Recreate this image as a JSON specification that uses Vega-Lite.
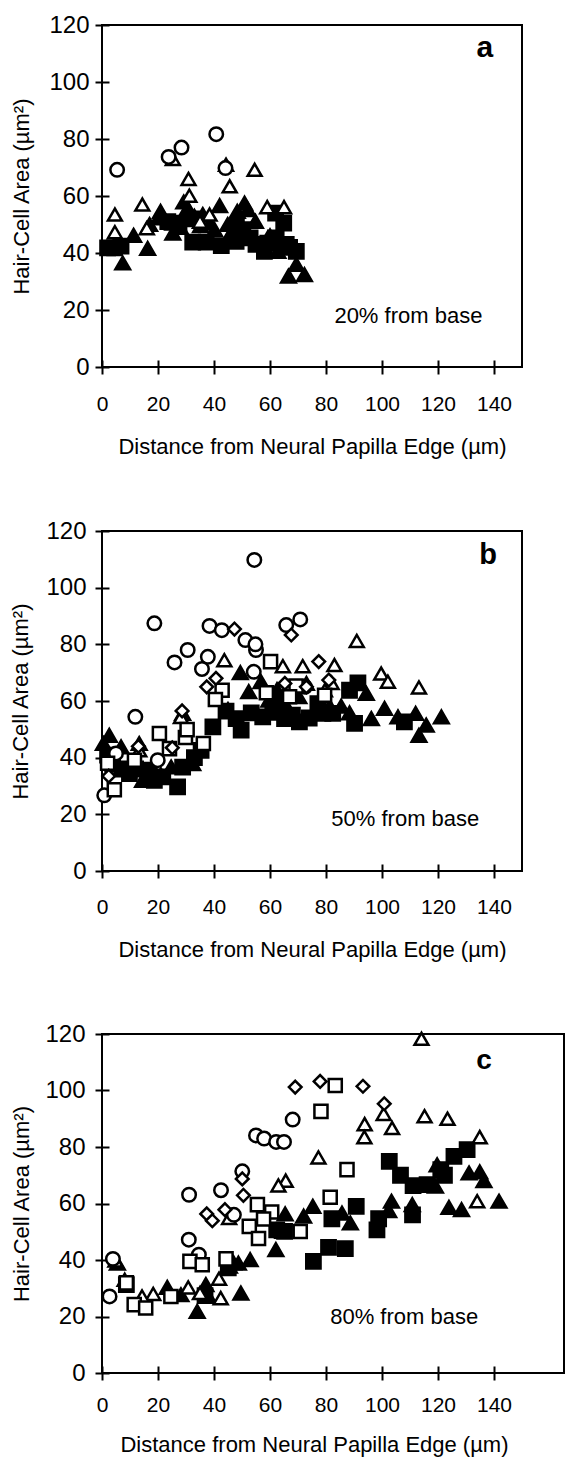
{
  "$schema": "https://vega.github.io/schema/vega-lite/v6.json",
  "background": "white",
  "padding": {"left": 8, "top": 12, "right": 0, "bottom": 0},
  "spacing": 60,
  "config": {
    "font": "Liberation Sans",
    "view": {"stroke": "black", "strokeWidth": 2},
    "axis": {
      "domain": false, "grid": false, "ticks": true,
      "tickColor": "black", "tickWidth": 2, "tickSize": 14, "offset": -7,
      "labelFont": "Liberation Sans", "labelFontSize": 21, "labelColor": "black", "labelFlush": false, "labelOverlap": false,
      "titleFont": "Liberation Sans", "titleFontSize": 22, "titleFontWeight": "normal", "titleColor": "black"
    },
    "axisY": {"labelFontSize": 24}
  },
  "datasets": {
    "points": [
      {"panel":"a","series":"filled triangle","distance":7.4,"area":36.5},
      {"panel":"a","series":"filled triangle","distance":11.3,"area":46.2},
      {"panel":"a","series":"filled triangle","distance":16.3,"area":41.6},
      {"panel":"a","series":"filled triangle","distance":17,"area":50},
      {"panel":"a","series":"filled triangle","distance":20.1,"area":52.3},
      {"panel":"a","series":"filled triangle","distance":20.9,"area":54.6},
      {"panel":"a","series":"filled triangle","distance":25.3,"area":50.5},
      {"panel":"a","series":"filled triangle","distance":25.3,"area":47},
      {"panel":"a","series":"filled triangle","distance":29.2,"area":57.9},
      {"panel":"a","series":"filled triangle","distance":30.6,"area":55.8},
      {"panel":"a","series":"filled triangle","distance":33,"area":52.9},
      {"panel":"a","series":"filled triangle","distance":36,"area":53.5},
      {"panel":"a","series":"filled triangle","distance":35.2,"area":49.6},
      {"panel":"a","series":"filled triangle","distance":42,"area":56.6},
      {"panel":"a","series":"filled triangle","distance":40.2,"area":48.2},
      {"panel":"a","series":"filled triangle","distance":44.9,"area":50},
      {"panel":"a","series":"filled triangle","distance":48.3,"area":54.6},
      {"panel":"a","series":"filled triangle","distance":50.9,"area":57.5},
      {"panel":"a","series":"filled triangle","distance":52.1,"area":55.2},
      {"panel":"a","series":"filled triangle","distance":54.8,"area":51.1},
      {"panel":"a","series":"filled triangle","distance":59.2,"area":45.3},
      {"panel":"a","series":"filled triangle","distance":62.8,"area":40.6},
      {"panel":"a","series":"filled triangle","distance":66.6,"area":31.9},
      {"panel":"a","series":"filled triangle","distance":69.4,"area":36},
      {"panel":"a","series":"filled triangle","distance":72.3,"area":32.4},
      {"panel":"a","series":"filled triangle","distance":4.6,"area":43},
      {"panel":"a","series":"filled triangle","distance":60,"area":46},
      {"panel":"a","series":"filled triangle","distance":28,"area":49},
      {"panel":"a","series":"filled triangle","distance":38.5,"area":50.5},
      {"panel":"a","series":"filled triangle","distance":46,"area":47},
      {"panel":"a","series":"filled square","distance":2,"area":41.8},
      {"panel":"a","series":"filled square","distance":4.5,"area":41.8},
      {"panel":"a","series":"filled square","distance":6.8,"area":42.4},
      {"panel":"a","series":"filled square","distance":23.5,"area":51},
      {"panel":"a","series":"filled square","distance":27.5,"area":50.5},
      {"panel":"a","series":"filled square","distance":32.4,"area":43.8},
      {"panel":"a","series":"filled square","distance":37.2,"area":43.8},
      {"panel":"a","series":"filled square","distance":42.6,"area":42.6},
      {"panel":"a","series":"filled square","distance":47.9,"area":44.1},
      {"panel":"a","series":"filled square","distance":50.3,"area":48.2},
      {"panel":"a","series":"filled square","distance":52.9,"area":45.3},
      {"panel":"a","series":"filled square","distance":58,"area":40.6},
      {"panel":"a","series":"filled square","distance":59.2,"area":43.5},
      {"panel":"a","series":"filled square","distance":62.2,"area":45.3},
      {"panel":"a","series":"filled square","distance":64.9,"area":50.5},
      {"panel":"a","series":"filled square","distance":65.8,"area":43},
      {"panel":"a","series":"filled square","distance":69.4,"area":40.6},
      {"panel":"a","series":"filled square","distance":62,"area":54},
      {"panel":"a","series":"filled square","distance":32,"area":52},
      {"panel":"a","series":"filled square","distance":48,"area":49},
      {"panel":"a","series":"filled square","distance":55,"area":43},
      {"panel":"a","series":"filled square","distance":67,"area":42},
      {"panel":"a","series":"open triangle","distance":4.6,"area":53.5},
      {"panel":"a","series":"open triangle","distance":4.6,"area":47.3},
      {"panel":"a","series":"open triangle","distance":14.4,"area":57},
      {"panel":"a","series":"open triangle","distance":16,"area":48.7},
      {"panel":"a","series":"open triangle","distance":25.3,"area":73},
      {"panel":"a","series":"open triangle","distance":30.9,"area":66},
      {"panel":"a","series":"open triangle","distance":31.2,"area":60.1},
      {"panel":"a","series":"open triangle","distance":38.4,"area":53.5},
      {"panel":"a","series":"open triangle","distance":44.3,"area":71},
      {"panel":"a","series":"open triangle","distance":45.6,"area":63.4},
      {"panel":"a","series":"open triangle","distance":54.5,"area":69.2},
      {"panel":"a","series":"open triangle","distance":59,"area":56.1},
      {"panel":"a","series":"open triangle","distance":65,"area":56.1},
      {"panel":"a","series":"open triangle","distance":35,"area":51},
      {"panel":"a","series":"open circle","distance":5.4,"area":69.2},
      {"panel":"a","series":"open circle","distance":23.8,"area":73.7},
      {"panel":"a","series":"open circle","distance":28.4,"area":77},
      {"panel":"a","series":"open circle","distance":40.8,"area":81.7},
      {"panel":"a","series":"open circle","distance":44.1,"area":69.8},

      {"panel":"b","series":"filled triangle","distance":49.4,"area":70},
      {"panel":"b","series":"filled triangle","distance":52.4,"area":63.3},
      {"panel":"b","series":"filled triangle","distance":56.8,"area":66.8},
      {"panel":"b","series":"filled triangle","distance":73,"area":66.2},
      {"panel":"b","series":"filled triangle","distance":70.3,"area":61.5},
      {"panel":"b","series":"filled triangle","distance":94.4,"area":62.7},
      {"panel":"b","series":"filled triangle","distance":100.9,"area":57.4},
      {"panel":"b","series":"filled triangle","distance":96.2,"area":53.8},
      {"panel":"b","series":"filled triangle","distance":85.4,"area":58.2},
      {"panel":"b","series":"filled triangle","distance":81.3,"area":58.2},
      {"panel":"b","series":"filled triangle","distance":88.4,"area":55.8},
      {"panel":"b","series":"filled triangle","distance":105.7,"area":54.4},
      {"panel":"b","series":"filled triangle","distance":112,"area":55.6},
      {"panel":"b","series":"filled triangle","distance":113.2,"area":47.9},
      {"panel":"b","series":"filled triangle","distance":115.8,"area":51.5},
      {"panel":"b","series":"filled triangle","distance":121.2,"area":54.4},
      {"panel":"b","series":"filled triangle","distance":2.6,"area":47.9},
      {"panel":"b","series":"filled triangle","distance":6.8,"area":43.8},
      {"panel":"b","series":"filled triangle","distance":13.3,"area":45},
      {"panel":"b","series":"filled triangle","distance":28.8,"area":55.6},
      {"panel":"b","series":"filled triangle","distance":32.4,"area":37.9},
      {"panel":"b","series":"filled triangle","distance":24.7,"area":36.7},
      {"panel":"b","series":"filled triangle","distance":14.5,"area":32},
      {"panel":"b","series":"filled triangle","distance":0.5,"area":45},
      {"panel":"b","series":"filled triangle","distance":59.6,"area":60.3},
      {"panel":"b","series":"filled triangle","distance":62.5,"area":64},
      {"panel":"b","series":"filled triangle","distance":9,"area":36},
      {"panel":"b","series":"filled triangle","distance":17,"area":35},
      {"panel":"b","series":"filled triangle","distance":21,"area":34},
      {"panel":"b","series":"filled triangle","distance":45,"area":57},
      {"panel":"b","series":"filled triangle","distance":66,"area":58},
      {"panel":"b","series":"filled square","distance":88.4,"area":63.8},
      {"panel":"b","series":"filled square","distance":91.4,"area":66.4},
      {"panel":"b","series":"filled square","distance":90.2,"area":52.1},
      {"panel":"b","series":"filled square","distance":108,"area":52.6},
      {"panel":"b","series":"filled square","distance":49.7,"area":49.7},
      {"panel":"b","series":"filled square","distance":39.6,"area":50.9},
      {"panel":"b","series":"filled square","distance":35.4,"area":42.6},
      {"panel":"b","series":"filled square","distance":27,"area":29.7},
      {"panel":"b","series":"filled square","distance":44.3,"area":56.4},
      {"panel":"b","series":"filled square","distance":47.9,"area":53.8},
      {"panel":"b","series":"filled square","distance":53.3,"area":55.8},
      {"panel":"b","series":"filled square","distance":57.4,"area":54.4},
      {"panel":"b","series":"filled square","distance":65.2,"area":53.8},
      {"panel":"b","series":"filled square","distance":70.5,"area":52.6},
      {"panel":"b","series":"filled square","distance":77.1,"area":59.1},
      {"panel":"b","series":"filled square","distance":78.9,"area":55.6},
      {"panel":"b","series":"filled square","distance":82.4,"area":55.6},
      {"panel":"b","series":"filled square","distance":18.7,"area":32},
      {"panel":"b","series":"filled square","distance":9.8,"area":34.4},
      {"panel":"b","series":"filled square","distance":3.8,"area":37.9},
      {"panel":"b","series":"filled square","distance":16.9,"area":35.6},
      {"panel":"b","series":"filled square","distance":21.7,"area":33.2},
      {"panel":"b","series":"filled square","distance":28.8,"area":36.7},
      {"panel":"b","series":"filled square","distance":2,"area":40.9},
      {"panel":"b","series":"filled square","distance":7,"area":36},
      {"panel":"b","series":"filled square","distance":12,"area":36},
      {"panel":"b","series":"filled square","distance":33,"area":40},
      {"panel":"b","series":"filled square","distance":61,"area":56},
      {"panel":"b","series":"filled square","distance":68,"area":55},
      {"panel":"b","series":"filled square","distance":74,"area":54},
      {"panel":"b","series":"filled square","distance":63,"area":60},
      {"panel":"b","series":"open triangle","distance":91,"area":81.2},
      {"panel":"b","series":"open triangle","distance":43.7,"area":74.4},
      {"panel":"b","series":"open triangle","distance":64.6,"area":72.3},
      {"panel":"b","series":"open triangle","distance":71.7,"area":72.3},
      {"panel":"b","series":"open triangle","distance":83,"area":72.7},
      {"panel":"b","series":"open triangle","distance":99.7,"area":69.7},
      {"panel":"b","series":"open triangle","distance":102.1,"area":66.8},
      {"panel":"b","series":"open triangle","distance":113.2,"area":64.8},
      {"panel":"b","series":"open triangle","distance":82,"area":66.4},
      {"panel":"b","series":"open triangle","distance":79.6,"area":63.8},
      {"panel":"b","series":"open triangle","distance":28.2,"area":54.4},
      {"panel":"b","series":"open triangle","distance":13.3,"area":42.6},
      {"panel":"b","series":"open circle","distance":54.4,"area":109.8},
      {"panel":"b","series":"open circle","distance":18.7,"area":87.4},
      {"panel":"b","series":"open circle","distance":38.4,"area":86.5},
      {"panel":"b","series":"open circle","distance":42.8,"area":85},
      {"panel":"b","series":"open circle","distance":51.2,"area":81.5},
      {"panel":"b","series":"open circle","distance":65.8,"area":86.8},
      {"panel":"b","series":"open circle","distance":70.8,"area":88.8},
      {"panel":"b","series":"open circle","distance":55,"area":78},
      {"panel":"b","series":"open circle","distance":30.6,"area":78},
      {"panel":"b","series":"open circle","distance":25.9,"area":73.6},
      {"panel":"b","series":"open circle","distance":37.8,"area":75.6},
      {"panel":"b","series":"open circle","distance":35.7,"area":71.3},
      {"panel":"b","series":"open circle","distance":54.2,"area":70.3},
      {"panel":"b","series":"open circle","distance":11.9,"area":54.4},
      {"panel":"b","series":"open circle","distance":19.9,"area":39.1},
      {"panel":"b","series":"open circle","distance":0.8,"area":26.7},
      {"panel":"b","series":"open circle","distance":5,"area":41.5},
      {"panel":"b","series":"open circle","distance":54.8,"area":80},
      {"panel":"b","series":"open circle","distance":72.5,"area":65},
      {"panel":"b","series":"open square","distance":60.2,"area":73.9},
      {"panel":"b","series":"open square","distance":42.9,"area":63.8},
      {"panel":"b","series":"open square","distance":40.5,"area":60.5},
      {"panel":"b","series":"open square","distance":58.7,"area":62.9},
      {"panel":"b","series":"open square","distance":69.3,"area":65.3},
      {"panel":"b","series":"open square","distance":20.5,"area":48.5},
      {"panel":"b","series":"open square","distance":29.8,"area":47.1},
      {"panel":"b","series":"open square","distance":30.4,"area":49.9},
      {"panel":"b","series":"open square","distance":36.2,"area":45},
      {"panel":"b","series":"open square","distance":4.4,"area":28.7},
      {"panel":"b","series":"open square","distance":24.1,"area":43.2},
      {"panel":"b","series":"open square","distance":67,"area":61.5},
      {"panel":"b","series":"open square","distance":11.6,"area":39.1},
      {"panel":"b","series":"open square","distance":79.5,"area":62},
      {"panel":"b","series":"open square","distance":2,"area":38},
      {"panel":"b","series":"open diamond","distance":47.3,"area":85.4},
      {"panel":"b","series":"open diamond","distance":67.6,"area":83.3},
      {"panel":"b","series":"open diamond","distance":77.4,"area":73.9},
      {"panel":"b","series":"open diamond","distance":40.7,"area":68},
      {"panel":"b","series":"open diamond","distance":37.4,"area":65},
      {"panel":"b","series":"open diamond","distance":28.6,"area":56.5},
      {"panel":"b","series":"open diamond","distance":25.1,"area":43.5},
      {"panel":"b","series":"open diamond","distance":2.4,"area":33.5},
      {"panel":"b","series":"open diamond","distance":65.3,"area":66.2},
      {"panel":"b","series":"open diamond","distance":81,"area":67.4},
      {"panel":"b","series":"open diamond","distance":13,"area":44},
      {"panel":"b","series":"open diamond","distance":73,"area":65},

      {"panel":"c","series":"filled triangle","distance":5.5,"area":38.9},
      {"panel":"c","series":"filled triangle","distance":23.3,"area":30.3},
      {"panel":"c","series":"filled triangle","distance":28.2,"area":27.7},
      {"panel":"c","series":"filled triangle","distance":34,"area":21.8},
      {"panel":"c","series":"filled triangle","distance":37.1,"area":31.3},
      {"panel":"c","series":"filled triangle","distance":38,"area":27.1},
      {"panel":"c","series":"filled triangle","distance":49.6,"area":28.3},
      {"panel":"c","series":"filled triangle","distance":48.7,"area":38.9},
      {"panel":"c","series":"filled triangle","distance":52.9,"area":40.1},
      {"panel":"c","series":"filled triangle","distance":45.5,"area":37.8},
      {"panel":"c","series":"filled triangle","distance":47,"area":39},
      {"panel":"c","series":"filled triangle","distance":62.1,"area":43.7},
      {"panel":"c","series":"filled triangle","distance":65.4,"area":56.3},
      {"panel":"c","series":"filled triangle","distance":64.6,"area":50.1},
      {"panel":"c","series":"filled triangle","distance":72,"area":55.5},
      {"panel":"c","series":"filled triangle","distance":75.3,"area":59},
      {"panel":"c","series":"filled triangle","distance":85.7,"area":56.6},
      {"panel":"c","series":"filled triangle","distance":88.7,"area":53.1},
      {"panel":"c","series":"filled triangle","distance":103.4,"area":60.8},
      {"panel":"c","series":"filled triangle","distance":102.4,"area":57.5},
      {"panel":"c","series":"filled triangle","distance":110.8,"area":59.6},
      {"panel":"c","series":"filled triangle","distance":119.7,"area":73.7},
      {"panel":"c","series":"filled triangle","distance":119.1,"area":66.1},
      {"panel":"c","series":"filled triangle","distance":123.9,"area":58.6},
      {"panel":"c","series":"filled triangle","distance":128.4,"area":57.8},
      {"panel":"c","series":"filled triangle","distance":131.1,"area":70.8},
      {"panel":"c","series":"filled triangle","distance":134.9,"area":71.2},
      {"panel":"c","series":"filled triangle","distance":136.4,"area":68.1},
      {"panel":"c","series":"filled triangle","distance":141.8,"area":60.8},
      {"panel":"c","series":"filled square","distance":75.5,"area":39.5},
      {"panel":"c","series":"filled square","distance":80.9,"area":44.5},
      {"panel":"c","series":"filled square","distance":86.9,"area":44},
      {"panel":"c","series":"filled square","distance":82.1,"area":54.6},
      {"panel":"c","series":"filled square","distance":90.8,"area":59},
      {"panel":"c","series":"filled square","distance":98.2,"area":50.7},
      {"panel":"c","series":"filled square","distance":98.8,"area":54.6},
      {"panel":"c","series":"filled square","distance":102.6,"area":74.9},
      {"panel":"c","series":"filled square","distance":106.6,"area":70},
      {"panel":"c","series":"filled square","distance":111.1,"area":66.3},
      {"panel":"c","series":"filled square","distance":110.9,"area":56},
      {"panel":"c","series":"filled square","distance":116.1,"area":66.7},
      {"panel":"c","series":"filled square","distance":122.3,"area":70},
      {"panel":"c","series":"filled square","distance":125.7,"area":76.7},
      {"panel":"c","series":"filled square","distance":130.4,"area":79.1},
      {"panel":"c","series":"filled square","distance":62.4,"area":50.7},
      {"panel":"c","series":"filled square","distance":65.2,"area":50.1},
      {"panel":"c","series":"filled square","distance":8.7,"area":31.3},
      {"panel":"c","series":"filled square","distance":36.8,"area":27.4},
      {"panel":"c","series":"filled square","distance":45.1,"area":37.2},
      {"panel":"c","series":"filled square","distance":121,"area":72},
      {"panel":"c","series":"open triangle","distance":114.1,"area":118.3},
      {"panel":"c","series":"open triangle","distance":115.2,"area":90.9},
      {"panel":"c","series":"open triangle","distance":123.4,"area":90},
      {"panel":"c","series":"open triangle","distance":134.9,"area":83.5},
      {"panel":"c","series":"open triangle","distance":100.6,"area":91.7},
      {"panel":"c","series":"open triangle","distance":103.6,"area":86.7},
      {"panel":"c","series":"open triangle","distance":93.8,"area":88.1},
      {"panel":"c","series":"open triangle","distance":93.7,"area":83.5},
      {"panel":"c","series":"open triangle","distance":77.3,"area":76.3},
      {"panel":"c","series":"open triangle","distance":65.6,"area":68.1},
      {"panel":"c","series":"open triangle","distance":63,"area":66.4},
      {"panel":"c","series":"open triangle","distance":134,"area":60.8},
      {"panel":"c","series":"open triangle","distance":41.8,"area":33.4},
      {"panel":"c","series":"open triangle","distance":42.4,"area":26.5},
      {"panel":"c","series":"open triangle","distance":35,"area":28.3},
      {"panel":"c","series":"open triangle","distance":30.8,"area":30.3},
      {"panel":"c","series":"open triangle","distance":18.3,"area":28},
      {"panel":"c","series":"open triangle","distance":14.3,"area":27.1},
      {"panel":"c","series":"open triangle","distance":8.1,"area":33},
      {"panel":"c","series":"open triangle","distance":45.4,"area":54.9},
      {"panel":"c","series":"open triangle","distance":4.8,"area":39.8},
      {"panel":"c","series":"open circle","distance":2.7,"area":27.1},
      {"panel":"c","series":"open circle","distance":3.9,"area":40.4},
      {"panel":"c","series":"open circle","distance":31.1,"area":63.1},
      {"panel":"c","series":"open circle","distance":31,"area":47.2},
      {"panel":"c","series":"open circle","distance":34.6,"area":41.9},
      {"panel":"c","series":"open circle","distance":42.5,"area":64.7},
      {"panel":"c","series":"open circle","distance":50.1,"area":71.4},
      {"panel":"c","series":"open circle","distance":55,"area":84.1},
      {"panel":"c","series":"open circle","distance":57.9,"area":83},
      {"panel":"c","series":"open circle","distance":62.2,"area":81.8},
      {"panel":"c","series":"open circle","distance":65,"area":81.8},
      {"panel":"c","series":"open circle","distance":68.1,"area":89.7},
      {"panel":"c","series":"open circle","distance":47.1,"area":56},
      {"panel":"c","series":"open square","distance":83.3,"area":101.8},
      {"panel":"c","series":"open square","distance":78.2,"area":92.6},
      {"panel":"c","series":"open square","distance":87.5,"area":72},
      {"panel":"c","series":"open square","distance":81.5,"area":62.2},
      {"panel":"c","series":"open square","distance":55.5,"area":59.6},
      {"panel":"c","series":"open square","distance":60.6,"area":57},
      {"panel":"c","series":"open square","distance":52.6,"area":51.9},
      {"panel":"c","series":"open square","distance":55.9,"area":47.6},
      {"panel":"c","series":"open square","distance":57.7,"area":54.5},
      {"panel":"c","series":"open square","distance":70.8,"area":50.1},
      {"panel":"c","series":"open square","distance":31.4,"area":39.5},
      {"panel":"c","series":"open square","distance":35.8,"area":38.3},
      {"panel":"c","series":"open square","distance":44.3,"area":40.4},
      {"panel":"c","series":"open square","distance":11.5,"area":24.2},
      {"panel":"c","series":"open square","distance":15.6,"area":23},
      {"panel":"c","series":"open square","distance":24.6,"area":27.1},
      {"panel":"c","series":"open square","distance":8.7,"area":31.9},
      {"panel":"c","series":"open diamond","distance":69,"area":101.2},
      {"panel":"c","series":"open diamond","distance":77.9,"area":103.2},
      {"panel":"c","series":"open diamond","distance":93.2,"area":101.5},
      {"panel":"c","series":"open diamond","distance":100.8,"area":95.3},
      {"panel":"c","series":"open diamond","distance":50.5,"area":62.9},
      {"panel":"c","series":"open diamond","distance":50.1,"area":68.7},
      {"panel":"c","series":"open diamond","distance":37.4,"area":56.3},
      {"panel":"c","series":"open diamond","distance":39.4,"area":53.9},
      {"panel":"c","series":"open diamond","distance":43.9,"area":57.8}
    ]
  },
  "vconcat": [
    {
      "width": 420, "height": 342,
      "layer": [
        {
          "data": {"name": "points"},
          "transform": [{"filter": "datum.panel === 'a'"}],
          "mark": {"type": "point", "filled": true, "stroke": "black", "strokeWidth": 2.5, "opacity": 1},
          "encoding": {
            "x": {"field": "distance", "type": "quantitative", "scale": {"domain": [0, 150], "nice": false, "zero": false},
                  "axis": {"values": [0, 20, 40, 60, 80, 100, 120, 140], "title": "Distance from Neural Papilla Edge (µm)", "labelPadding": 19, "titlePadding": 22}},
            "y": {"field": "area", "type": "quantitative", "scale": {"domain": [0, 120], "nice": false},
                  "axis": {"values": [0, 20, 40, 60, 80, 100, 120], "title": "Hair-Cell Area (µm²)", "labelPadding": 6, "titlePadding": 15}},
            "shape": {"field": "series", "type": "nominal", "legend": null, "scale": {"domain": ["filled triangle", "filled square", "open triangle", "open circle", "open square", "open diamond"], "range": ["triangle-up", "square", "triangle-up", "circle", "square", "diamond"]}},
            "color": {"field": "series", "type": "nominal", "legend": null, "scale": {"domain": ["filled triangle", "filled square", "open triangle", "open circle", "open square", "open diamond"], "range": ["black", "black", "white", "white", "white", "white"]}},
            "size": {"field": "series", "type": "ordinal", "legend": null, "scale": {"domain": ["filled triangle", "filled square", "open triangle", "open circle", "open square", "open diamond"], "range": [215, 160, 150, 125, 130, 115]}}
          }
        },
        {
          "data": {"values": [{}]},
          "mark": {"type": "text", "align": "left", "baseline": "middle", "fontSize": 22, "font": "Liberation Sans", "color": "black"},
          "encoding": {"x": {"datum": 83}, "y": {"datum": 18}, "text": {"value": "20% from base"}}
        },
        {
          "data": {"values": [{}]},
          "mark": {"type": "text", "align": "center", "baseline": "middle", "fontSize": 30, "fontWeight": "bold", "font": "Liberation Sans", "color": "black"},
          "encoding": {"x": {"datum": 136.7}, "y": {"datum": 111.8}, "text": {"value": "a"}}
        }
      ]
    },
    {
      "width": 420, "height": 340,
      "layer": [
        {
          "data": {"name": "points"},
          "transform": [{"filter": "datum.panel === 'b'"}],
          "mark": {"type": "point", "filled": true, "stroke": "black", "strokeWidth": 2.5, "opacity": 1},
          "encoding": {
            "x": {"field": "distance", "type": "quantitative", "scale": {"domain": [0, 150], "nice": false, "zero": false},
                  "axis": {"values": [0, 20, 40, 60, 80, 100, 120, 140], "title": "Distance from Neural Papilla Edge (µm)", "labelPadding": 18.5, "titlePadding": 21.5}},
            "y": {"field": "area", "type": "quantitative", "scale": {"domain": [0, 120], "nice": false},
                  "axis": {"values": [0, 20, 40, 60, 80, 100, 120], "title": "Hair-Cell Area (µm²)", "labelPadding": 9, "titlePadding": 13}},
            "shape": {"field": "series", "type": "nominal", "legend": null, "scale": {"domain": ["filled triangle", "filled square", "open triangle", "open circle", "open square", "open diamond"], "range": ["triangle-up", "square", "triangle-up", "circle", "square", "diamond"]}},
            "color": {"field": "series", "type": "nominal", "legend": null, "scale": {"domain": ["filled triangle", "filled square", "open triangle", "open circle", "open square", "open diamond"], "range": ["black", "black", "white", "white", "white", "white"]}},
            "size": {"field": "series", "type": "ordinal", "legend": null, "scale": {"domain": ["filled triangle", "filled square", "open triangle", "open circle", "open square", "open diamond"], "range": [215, 160, 150, 125, 130, 115]}}
          }
        },
        {
          "data": {"values": [{}]},
          "mark": {"type": "text", "align": "left", "baseline": "middle", "fontSize": 22, "font": "Liberation Sans", "color": "black"},
          "encoding": {"x": {"datum": 81.9}, "y": {"datum": 18.5}, "text": {"value": "50% from base"}}
        },
        {
          "data": {"values": [{}]},
          "mark": {"type": "text", "align": "center", "baseline": "middle", "fontSize": 29, "fontWeight": "bold", "font": "Liberation Sans", "color": "black"},
          "encoding": {"x": {"datum": 137.9}, "y": {"datum": 111.5}, "text": {"value": "b"}}
        }
      ]
    },
    {
      "width": 462, "height": 339,
      "layer": [
        {
          "data": {"name": "points"},
          "transform": [{"filter": "datum.panel === 'c'"}],
          "mark": {"type": "point", "filled": true, "stroke": "black", "strokeWidth": 2.5, "opacity": 1},
          "encoding": {
            "x": {"field": "distance", "type": "quantitative", "scale": {"domain": [0, 165], "nice": false, "zero": false},
                  "axis": {"values": [0, 20, 40, 60, 80, 100, 120, 140], "title": "Distance from Neural Papilla Edge (µm)", "labelPadding": 14.5, "titlePadding": 19, "titleX": 212}},
            "y": {"field": "area", "type": "quantitative", "scale": {"domain": [0, 120], "nice": false},
                  "axis": {"values": [0, 20, 40, 60, 80, 100, 120], "title": "Hair-Cell Area (µm²)", "labelPadding": 10, "titlePadding": 11}},
            "shape": {"field": "series", "type": "nominal", "legend": null, "scale": {"domain": ["filled triangle", "filled square", "open triangle", "open circle", "open square", "open diamond"], "range": ["triangle-up", "square", "triangle-up", "circle", "square", "diamond"]}},
            "color": {"field": "series", "type": "nominal", "legend": null, "scale": {"domain": ["filled triangle", "filled square", "open triangle", "open circle", "open square", "open diamond"], "range": ["black", "black", "white", "white", "white", "white"]}},
            "size": {"field": "series", "type": "ordinal", "legend": null, "scale": {"domain": ["filled triangle", "filled square", "open triangle", "open circle", "open square", "open diamond"], "range": [215, 160, 150, 125, 130, 115]}}
          }
        },
        {
          "data": {"values": [{}]},
          "mark": {"type": "text", "align": "left", "baseline": "middle", "fontSize": 22, "font": "Liberation Sans", "color": "black"},
          "encoding": {"x": {"datum": 81.5}, "y": {"datum": 20}, "text": {"value": "80% from base"}}
        },
        {
          "data": {"values": [{}]},
          "mark": {"type": "text", "align": "center", "baseline": "middle", "fontSize": 28, "fontWeight": "bold", "font": "Liberation Sans", "color": "black"},
          "encoding": {"x": {"datum": 136.4}, "y": {"datum": 110.3}, "text": {"value": "c"}}
        }
      ]
    }
  ]
}
